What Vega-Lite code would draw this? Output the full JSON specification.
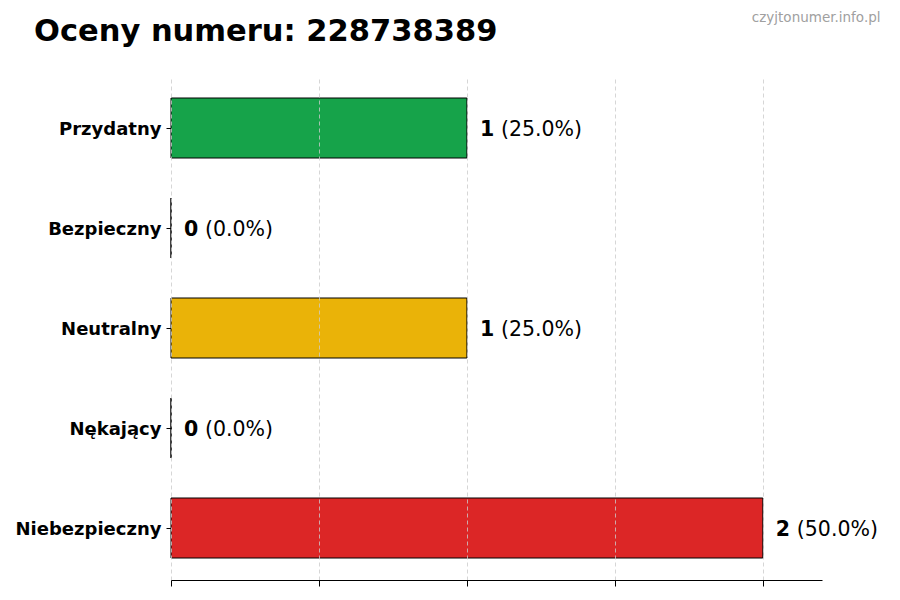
{
  "$schema": "https://vega.github.io/schema/vega-lite/v6.json",
  "width": 651,
  "height": 504,
  "autosize": {"type": "none"},
  "padding": {"left": 171, "top": 76, "right": 78, "bottom": 20},
  "background": "white",
  "config": {
    "font": "DejaVu Sans",
    "view": {"stroke": null}
  },
  "title": {
    "text": "Oceny numeru: 228738389",
    "anchor": "start",
    "frame": "group",
    "dx": -137,
    "dy": 41,
    "fontSize": 30.5,
    "fontWeight": "bold",
    "color": "black"
  },
  "data": {
    "values": [
      {"ocena": "Przydatny", "liczba": 1, "procent": "(25.0%)"},
      {"ocena": "Bezpieczny", "liczba": 0, "procent": "(0.0%)"},
      {"ocena": "Neutralny", "liczba": 1, "procent": "(25.0%)"},
      {"ocena": "Nękający", "liczba": 0, "procent": "(0.0%)"},
      {"ocena": "Niebezpieczny", "liczba": 2, "procent": "(50.0%)"}
    ]
  },
  "encoding": {
    "y": {
      "field": "ocena",
      "type": "nominal",
      "sort": null,
      "scale": {"paddingInner": 0.4, "paddingOuter": 0.22},
      "axis": {
        "title": "czyjtonumer.info.pl",
        "titleAngle": 0,
        "titleX": 709,
        "titleY": -59,
        "titleAlign": "right",
        "titleBaseline": "middle",
        "titleFontSize": 13.5,
        "titleFontWeight": "normal",
        "titleColor": "#a0a0a0",
        "domain": false,
        "ticks": true,
        "tickColor": "black",
        "tickSize": 5,
        "labelPadding": 5,
        "labelOffset": 2,
        "labelFontSize": 18,
        "labelFontWeight": "bold",
        "labelColor": "black",
        "grid": false
      }
    },
    "x": {
      "field": "liczba",
      "type": "quantitative",
      "scale": {"domain": [0, 2.2], "nice": false},
      "axis": {
        "title": null,
        "values": [0, 0.5, 1, 1.5, 2],
        "labels": false,
        "ticks": true,
        "tickColor": "black",
        "tickSize": 6,
        "domain": true,
        "domainColor": "black",
        "domainWidth": 1,
        "grid": true,
        "gridColor": "#cccccc",
        "gridDash": [4, 3],
        "gridWidth": 0.8,
        "zindex": 1
      }
    }
  },
  "layer": [
    {
      "mark": {"type": "bar", "stroke": "black", "strokeWidth": 1},
      "encoding": {
        "color": {
          "field": "ocena",
          "type": "nominal",
          "legend": null,
          "scale": {
            "domain": ["Przydatny", "Bezpieczny", "Neutralny", "Nękający", "Niebezpieczny"],
            "range": ["#16a34a", "#2563eb", "#eab308", "#f97316", "#dc2626"]
          }
        }
      }
    },
    {
      "mark": {"type": "text", "align": "left", "baseline": "middle", "dx": 13, "dy": 2, "fontSize": 20.5, "fontWeight": "bold", "color": "black"},
      "encoding": {"text": {"field": "liczba", "type": "quantitative"}}
    },
    {
      "mark": {"type": "text", "align": "left", "baseline": "middle", "dx": 34, "dy": 2, "fontSize": 20.5, "color": "black"},
      "encoding": {"text": {"field": "procent", "type": "nominal"}}
    }
  ]
}
